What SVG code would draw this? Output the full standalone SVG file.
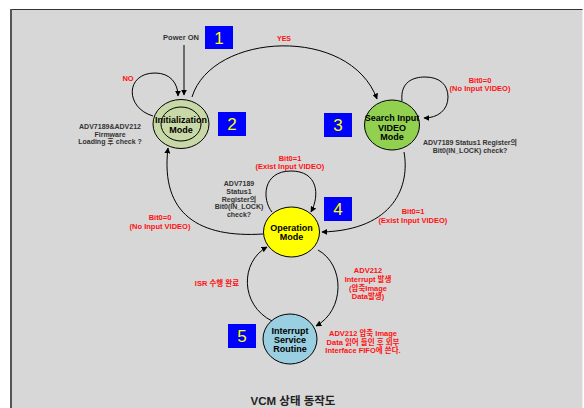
<svg xmlns="http://www.w3.org/2000/svg" width="584" height="408" viewBox="0 0 584 408">
<defs>
<marker id="ah" viewBox="0 0 10 10" refX="9" refY="5" markerWidth="6" markerHeight="6" orient="auto" markerUnits="userSpaceOnUse"><path d="M0,0 L10,5 L0,10 z" fill="#000"/></marker>
<style>
text{font-family:"Liberation Sans","Noto Sans CJK KR",sans-serif;font-weight:bold;text-anchor:middle}
.nl{font-size:9px;fill:#000}
.red{font-size:7.5px;fill:#ff1010}
.dk{font-size:7px;fill:#333}
.num{font-size:17px;fill:#ffff00;font-weight:normal}
.box{fill:#0000ff}
.edge{fill:none;stroke:#000;stroke-width:1;marker-end:url(#ah)}
.node{stroke:#000;stroke-width:1}
</style>
</defs>
<rect x="0" y="0" width="584" height="408" fill="#fff"/>
<rect x="10" y="9" width="572.5" height="400" fill="#d7d7d7"/>
<line x1="10" y1="9.5" x2="582.5" y2="9.5" stroke="#333" stroke-width="1"/>
<line x1="11" y1="9" x2="11" y2="408" stroke="#555" stroke-width="2"/>

<g id="connectors">
<path class="edge" d="M184,45 L184,95"/>
<path class="edge" d="M153,116 C125,108 125,73 155,73 C170,73 178,83 178,96"/>
<path class="edge" d="M192,97 C212,32 350,25 377,99"/>
<path class="edge" d="M402,101 C400,82 413,77 425,77 C440,77 448,85 448,97 C448,110 438,118 424,118"/>
<path class="edge" d="M404,152 C410,185 395,230 322,232"/>
<path class="edge" d="M272,212 C262,200 262,171 291,171 C318,171 320,195 311,212"/>
<path class="edge" d="M263,234 C200,238 160,215 168,148"/>
<path class="edge" d="M318,250 C345,265 345,310 316,326"/>
<path class="edge" d="M272,321 C240,305 240,262 267,247"/>
</g>

<g id="init">
<ellipse class="node" cx="181" cy="124" rx="28" ry="24.5" fill="#c8d8a6"/>
<ellipse class="node" cx="181" cy="124" rx="20" ry="17" fill="#c8d8a6"/>
<text class="nl" x="181" y="123">Initialization</text>
<text class="nl" x="181" y="133">Mode</text>
</g>
<g id="search">
<ellipse class="node" cx="392" cy="125" rx="27.5" ry="25" fill="#92d050"/>
<text class="nl" x="392" y="121">Search Input</text>
<text class="nl" x="392" y="130.5">VIDEO</text>
<text class="nl" x="392" y="139.5">Mode</text>
</g>
<g id="operation">
<ellipse class="node" cx="291.5" cy="232" rx="28" ry="25" fill="#ffff00"/>
<text class="nl" x="291.5" y="230.5">Operation</text>
<text class="nl" x="291.5" y="240">Mode</text>
</g>
<g id="isr">
<ellipse class="node" cx="290" cy="339" rx="27" ry="25" fill="#99cfe0"/>
<text class="nl" x="290" y="333.5">Interrupt</text>
<text class="nl" x="290" y="343">Service</text>
<text class="nl" x="290" y="352">Routine</text>
</g>

<g id="numbers">
<rect class="box" x="205" y="26" width="28" height="23"/><text class="num" x="219" y="44">1</text>
<rect class="box" x="218" y="112" width="28" height="24"/><text class="num" x="232" y="130">2</text>
<rect class="box" x="324" y="113" width="28" height="24"/><text class="num" x="338" y="131">3</text>
<rect class="box" x="324" y="197" width="28" height="24"/><text class="num" x="338" y="215">4</text>
<rect class="box" x="228" y="324" width="28" height="24"/><text class="num" x="242" y="342">5</text>
</g>

<g id="labels">
<text class="dk" x="181" y="40" style="font-size:7.5px">Power ON</text>
<text class="red" x="284" y="41" style="font-size:7px">YES</text>
<text class="red" x="128" y="81">NO</text>
<text class="red" x="480" y="82.5">Bit0=0</text>
<text class="red" x="480" y="90.5">(No Input VIDEO)</text>
<text class="dk" x="470" y="145">ADV7189 Status1 Register의</text>
<text class="dk" x="470" y="152.5">Bit0(IN_LOCK) check?</text>
<text class="red" x="413" y="214">Bit0=1</text>
<text class="red" x="413" y="223">(Exist Input VIDEO)</text>
<text class="red" x="290" y="160.5">Bit0=1</text>
<text class="red" x="290" y="168.5">(Exist Input VIDEO)</text>
<text class="dk" x="239" y="186">ADV7189</text>
<text class="dk" x="239" y="194">Status1</text>
<text class="dk" x="239" y="201.5">Register의</text>
<text class="dk" x="239" y="209">Bit0(IN_LOCK)</text>
<text class="dk" x="239" y="216.5">check?</text>
<text class="red" x="160" y="219.5">Bit0=0</text>
<text class="red" x="160" y="228.5">(No Input VIDEO)</text>
<text class="dk" x="110" y="129">ADV7189&amp;ADV212</text>
<text class="dk" x="110" y="136.5">Firmware</text>
<text class="dk" x="110" y="144">Loading 후 check ?</text>
<text class="red" x="368" y="273">ADV212</text>
<text class="red" x="368" y="282">Interrupt 발생</text>
<text class="red" x="368" y="290.5">(압축Image</text>
<text class="red" x="368" y="299">Data발생)</text>
<text class="red" x="217" y="286">ISR 수행 완료</text>
<text class="red" x="363" y="336">ADV212 압축 Image</text>
<text class="red" x="363" y="344.5">Data 읽어 들인 후 외부</text>
<text class="red" x="363" y="353">Interface FIFO에 쓴다.</text>
<text x="293" y="405" style="font-size:11.5px;fill:#222">VCM 상태 동작도</text>
</g>
</svg>
